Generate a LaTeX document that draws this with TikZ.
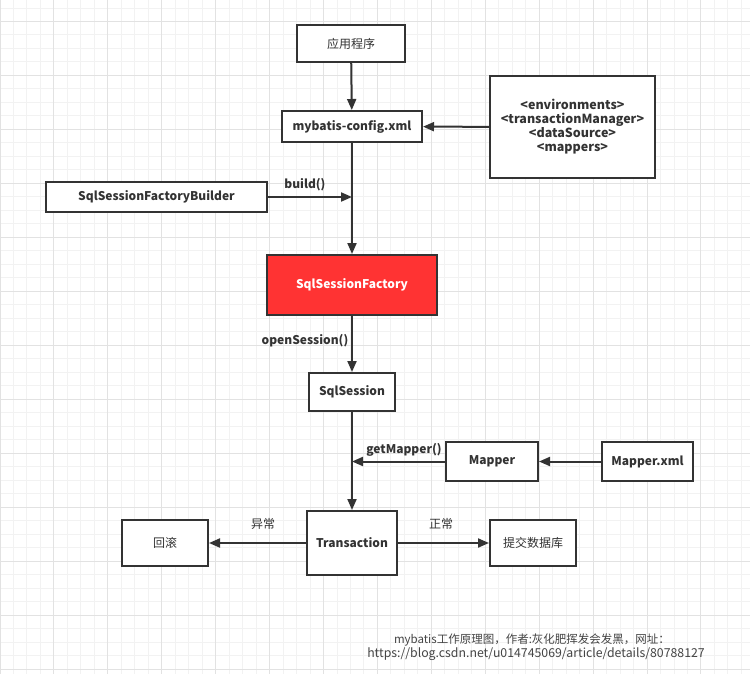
\documentclass[tikz,border=0pt]{standalone}
\usepackage{fontspec}
\setmainfont{Noto Sans CJK SC}
\usetikzlibrary{arrows.meta}
\definecolor{ink}{HTML}{333333}
\definecolor{redfill}{HTML}{FF3333}
\definecolor{gminor}{HTML}{F2F2F2}
\definecolor{gmajor}{HTML}{E2E2E2}
\definecolor{wm}{HTML}{444444}
\tikzset{
  box/.style={draw=ink, line width=2pt, fill=white, inner sep=0pt, font=\fontsize{12}{14}\selectfont\bfseries, text=ink},
  cnbox/.style={box, font=\fontsize{12}{14}\selectfont},
  conn/.style={draw=ink, line width=2pt, -{Triangle[length=11pt,width=9pt]}},
  lbl/.style={font=\fontsize{12}{14}\selectfont\bfseries, text=ink, inner sep=0pt},
  cnlbl/.style={font=\fontsize{12}{14}\selectfont, text=ink, inner sep=0pt},
  wmtext/.style={text=wm, inner sep=0pt},
}
\begin{document}
\begin{tikzpicture}[x=1pt,y=-1pt]
\useasboundingbox (0,0) rectangle (750,674);
\fill[white] (0,0) rectangle (750,674);
% grid
\foreach \i in {0,...,56} {\draw[gminor, line width=1pt] (\i*13.48,0) -- (\i*13.48,674);}
\foreach \i in {-1,...,50} {\draw[gminor, line width=1pt] (0,21.5+\i*13.49) -- (750,21.5+\i*13.49);}
\foreach \i in {0,...,14} {\draw[gmajor, line width=1pt] (\i*53.92,0) -- (\i*53.92,674);}
\foreach \i in {0,...,12} {\draw[gmajor, line width=1pt] (0,21.5+\i*53.96) -- (750,21.5+\i*53.96);}
% nodes
\node[cnbox, minimum width=108pt, minimum height=37pt] (app) at (351,43.5) {应用程序};
\node[box, minimum width=140pt, minimum height=31pt] (cfg) at (352,126.5) {mybatis-config.xml};
\node[box, minimum width=165pt, minimum height=102pt, align=center, font=\fontsize{12.5}{14}\selectfont\bfseries] (env) at (572.5,127) {<environments>\\<transactionManager>\\<dataSource>\\<mappers>};
\node[box, minimum width=221pt, minimum height=30pt] (builder) at (156.5,197) {SqlSessionFactoryBuilder};
\node[box, fill=redfill, text=white, minimum width=170pt, minimum height=60pt] (factory) at (352,285) {SqlSessionFactory};
\node[box, minimum width=86pt, minimum height=38pt] (session) at (352,392) {SqlSession};
\node[box, minimum width=92pt, minimum height=39pt] (mapper) at (492,461.5) {Mapper};
\node[box, minimum width=91pt, minimum height=39pt] (mxml) at (647.5,461.5) {Mapper.xml};
\node[box, minimum width=90pt, minimum height=64pt] (tx) at (352,543) {Transaction};
\node[cnbox, minimum width=86pt, minimum height=46pt] (rb) at (165,543) {回滚};
\node[cnbox, minimum width=86pt, minimum height=46pt] (commit) at (533,543) {提交数据库};
% junction coordinates
\coordinate (jb) at (cfg.south |- builder.east);
\coordinate (jm) at (session.south |- mapper.west);
% connectors
\draw[conn] (app) -- (cfg);
\draw[conn] (env) -- (cfg);
\draw[conn] (cfg) -- (factory);
\draw[conn] (builder) -- (jb);
\draw[conn] (factory) -- (session);
\draw[conn] (session) -- (tx);
\draw[conn] (mapper) -- (jm);
\draw[conn] (mxml) -- (mapper);
\draw[conn] (tx) -- (rb);
\draw[conn] (tx) -- (commit);
% labels
\node[lbl] (lbuild) at (305,185) {build()};
\node[lbl] (lopen) at (305,340.5) {openSession()};
\node[lbl] (lget) at (404,450) {getMapper()};
\node[cnlbl] (lerr) at (263,524) {异常};
\node[cnlbl] (lok) at (441,524) {正常};
% watermark
\node[wmtext, font=\fontsize{11.5}{14}\selectfont] (wm1) at (532,640) {mybatis工作原理图，作者:灰化肥挥发会发黑，网址：};
\node[wmtext, font=\fontsize{12.3}{14}\selectfont] (wm2) at (536,654) {https://blog.csdn.net/u014745069/article/details/80788127};
\end{tikzpicture}
\end{document}
